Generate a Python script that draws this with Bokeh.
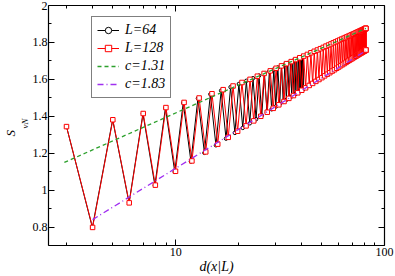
from bokeh.plotting import figure
from bokeh.models import (Range1d, LogAxis, LinearAxis, FixedTicker, Legend,
                          LegendItem, Title)
from bokeh.embed import file_html
from bokeh.resources import INLINE

# ---- data ----
d128 = [3.00, 4.00, 5.00, 5.99, 6.99, 7.99, 8.98, 9.98, 10.97, 11.96, 12.95, 13.93,
        14.92, 15.90, 16.88, 17.85, 18.83, 19.80, 20.77, 21.73, 22.70, 23.65, 24.61,
        25.56, 26.51, 27.45, 28.39, 29.33, 30.26, 31.18, 32.11, 33.02, 33.93, 34.84,
        35.74, 36.64, 37.53, 38.41, 39.29, 40.16, 41.03, 41.89, 42.75, 43.60, 44.44,
        45.27, 46.10, 46.92, 47.73, 48.54, 49.34, 50.13, 50.92, 51.69, 52.46, 53.23,
        53.98, 54.72, 55.46, 56.19, 56.91, 57.62, 58.32, 59.02, 59.70, 60.38, 61.05,
        61.70, 62.35, 62.99, 63.62, 64.24, 64.85, 65.45, 66.04, 66.62, 67.19, 67.75,
        68.30, 68.85, 69.37, 69.89, 70.40, 70.90, 71.39, 71.87, 72.33, 72.79, 73.23,
        73.66, 74.09, 74.50, 74.90, 75.28, 75.66, 76.03, 76.38, 76.72, 77.06, 77.37,
        77.68, 77.98, 78.26, 78.54, 78.80, 79.05, 79.28, 79.51, 79.72, 79.92, 80.11,
        80.29, 80.45, 80.61, 80.75, 80.87, 80.99, 81.10, 81.19, 81.27, 81.33, 81.39,
        81.43, 81.46, 81.48, 81.49]
s128 = [1.344, 0.798, 1.381, 0.931, 1.415, 1.027, 1.447, 1.102, 1.475, 1.158, 1.499,
        1.207, 1.522, 1.249, 1.544, 1.286, 1.564, 1.319, 1.583, 1.348, 1.600, 1.375,
        1.617, 1.400, 1.632, 1.422, 1.646, 1.443, 1.660, 1.462, 1.673, 1.480, 1.685,
        1.497, 1.696, 1.512, 1.707, 1.527, 1.717, 1.541, 1.726, 1.554, 1.735, 1.567,
        1.744, 1.578, 1.752, 1.589, 1.759, 1.599, 1.766, 1.609, 1.773, 1.619, 1.780,
        1.628, 1.786, 1.636, 1.792, 1.645, 1.798, 1.652, 1.803, 1.660, 1.808, 1.667,
        1.813, 1.674, 1.818, 1.680, 1.822, 1.686, 1.826, 1.692, 1.830, 1.698, 1.834,
        1.703, 1.837, 1.708, 1.841, 1.712, 1.844, 1.717, 1.847, 1.721, 1.850, 1.725,
        1.853, 1.728, 1.855, 1.732, 1.858, 1.735, 1.860, 1.738, 1.862, 1.741, 1.864,
        1.743, 1.866, 1.746, 1.867, 1.748, 1.869, 1.750, 1.870, 1.752, 1.871, 1.753,
        1.872, 1.755, 1.873, 1.756, 1.874, 1.757, 1.875, 1.758, 1.875, 1.758, 1.876,
        1.759, 1.876, 1.759, 1.876, 1.759]

d64 = [3.00, 3.99, 4.99, 5.98, 6.97, 7.95, 8.93, 9.90, 10.87, 11.83, 12.78, 13.73,
       14.66, 15.59, 16.51, 17.42, 18.32, 19.21, 20.08, 20.95, 21.80, 22.64, 23.46,
       24.27, 25.07, 25.85, 26.61, 27.36, 28.10, 28.81, 29.51, 30.19, 30.85, 31.50,
       32.12, 32.73, 33.31, 33.88, 34.42, 34.95, 35.45, 35.93, 36.39, 36.83, 37.25,
       37.64, 38.01, 38.36, 38.69, 38.99, 39.27, 39.52, 39.75, 39.96, 40.14, 40.30,
       40.44, 40.55, 40.63, 40.70, 40.73, 40.74]
s64 = [1.344, 0.798, 1.381, 0.931, 1.414, 1.026, 1.445, 1.099, 1.473, 1.155, 1.497,
       1.202, 1.519, 1.243, 1.539, 1.279, 1.558, 1.310, 1.575, 1.337, 1.592, 1.362,
       1.606, 1.384, 1.620, 1.404, 1.632, 1.422, 1.644, 1.438, 1.654, 1.453, 1.664,
       1.466, 1.673, 1.478, 1.681, 1.489, 1.688, 1.498, 1.694, 1.508, 1.700, 1.515,
       1.705, 1.522, 1.709, 1.528, 1.713, 1.533, 1.717, 1.537, 1.719, 1.540, 1.721,
       1.543, 1.723, 1.545, 1.724, 1.546, 1.725, 1.546]

fit131_d = [2.93, 81.5]
fit131_s = [1.150, 1.876]
fit183_d = [4.0, 81.5]
fit183_s = [0.840, 1.755]

series_labels = ["L=64", "L=128", "c=1.31", "c=1.83"]

x_ticks = [10, 100]
x_tick_labels = ["10", "100"]
x_minor = [3, 4, 5, 6, 7, 8, 9, 20, 30, 40, 50, 60, 70, 80, 90]
y_ticks = [0.8, 1.0, 1.2, 1.4, 1.6, 1.8, 2.0]
y_tick_labels = ["0.8", "1", "1.2", "1.4", "1.6", "1.8", "2"]
y_minor = [0.7, 0.9, 1.1, 1.3, 1.5, 1.7, 1.9]

FONT = "Liberation Serif"

p = figure(width=395, height=276, x_axis_type="log",
           x_range=Range1d(2.46, 100), y_range=Range1d(0.7, 2.0),
           output_backend="svg", toolbar_location=None,
           min_border_left=10, min_border_right=11, min_border_top=5,
           min_border_bottom=10)
p.outline_line_color = None
p.xgrid.visible = False
p.ygrid.visible = False
p.background_fill_color = "white"
p.border_fill_color = "white"

def style_axis(ax, show_labels):
    ax.axis_line_color = "black"
    ax.axis_line_width = 1.2
    ax.major_tick_in = 6
    ax.major_tick_out = 0
    ax.minor_tick_in = 3
    ax.minor_tick_out = 0
    ax.major_tick_line_color = "black"
    ax.minor_tick_line_color = "black"
    ax.major_label_text_font = FONT
    ax.major_label_text_font_size = "12px" if show_labels else "0px"
    ax.major_label_text_color = "black"
    ax.major_label_standoff = 2 if show_labels else 0

xa = p.xaxis[0]
xa.ticker = FixedTicker(ticks=x_ticks, minor_ticks=x_minor)
xa.major_label_overrides = {t: l for t, l in zip(x_ticks, x_tick_labels)}
style_axis(xa, True)
xa.axis_label = "d(x|L)"
xa.axis_label_text_font = FONT
xa.axis_label_text_font_style = "italic"
xa.axis_label_text_font_size = "14px"
xa.axis_label_text_color = "black"
xa.axis_label_standoff = 0

ya = p.yaxis[0]
ya.ticker = FixedTicker(ticks=y_ticks, minor_ticks=y_minor)
ya.major_label_overrides = {t: l for t, l in zip(y_ticks, y_tick_labels)}
style_axis(ya, True)
ya.major_label_standoff = 1

top = LogAxis(ticker=FixedTicker(ticks=x_ticks, minor_ticks=x_minor))
top.major_label_overrides = {t: "" for t in x_ticks}
style_axis(top, False)
p.add_layout(top, "above")
right = LinearAxis(ticker=FixedTicker(ticks=y_ticks, minor_ticks=y_minor))
right.major_label_overrides = {t: "" for t in y_ticks}
style_axis(right, False)
p.add_layout(right, "right")

# y-axis label S_vN: subscript column next to the axis, main letter outside it
sub_title = Title(text="vN", align="left", offset=117, standoff=0,
                  text_font=FONT, text_font_style="italic",
                  text_font_size="9px", text_color="black")
main_title = Title(text="S", align="left", offset=109, standoff=0,
                   text_font=FONT, text_font_style="italic",
                   text_font_size="13px", text_color="black")
p.add_layout(sub_title, "left")
p.add_layout(main_title, "left")

r64l = p.line(d64, s64, line_color="black", line_width=1)
r64m = p.scatter(d64, s64, marker="circle", size=3.5, line_color="black",
                 fill_color="white", line_width=1)
r128l = p.line(d128, s128, line_color="#ff0000", line_width=1)
r128m = p.scatter(d128, s128, marker="square", size=4.5, line_color="#ff0000",
                  fill_color="white", line_width=1)
rg = p.line(fit131_d, fit131_s, line_color="#2ca02c", line_width=1.3,
            line_dash="4 3")
rv = p.line(fit183_d, fit183_s, line_color="#a030f0", line_width=1.3,
            line_dash="6 3 1 3")

legend = Legend(items=[
    LegendItem(label=series_labels[0], renderers=[r64l, r64m]),
    LegendItem(label=series_labels[1], renderers=[r128l, r128m]),
    LegendItem(label=series_labels[2], renderers=[rg]),
    LegendItem(label=series_labels[3], renderers=[rv]),
], location=(43, 147))
legend.border_line_color = "black"
legend.border_line_width = 1
legend.background_fill_color = "white"
legend.background_fill_alpha = 1
legend.label_text_font = FONT
legend.label_text_font_style = "italic"
legend.label_text_font_size = "14px"
legend.label_text_color = "black"
legend.glyph_width = 22
legend.glyph_height = 16
legend.label_height = 16
legend.spacing = 2
legend.padding = 5
legend.margin = 0
legend.label_standoff = 6
p.add_layout(legend, "center")

open("out.html", "w").write(file_html(p, INLINE))
